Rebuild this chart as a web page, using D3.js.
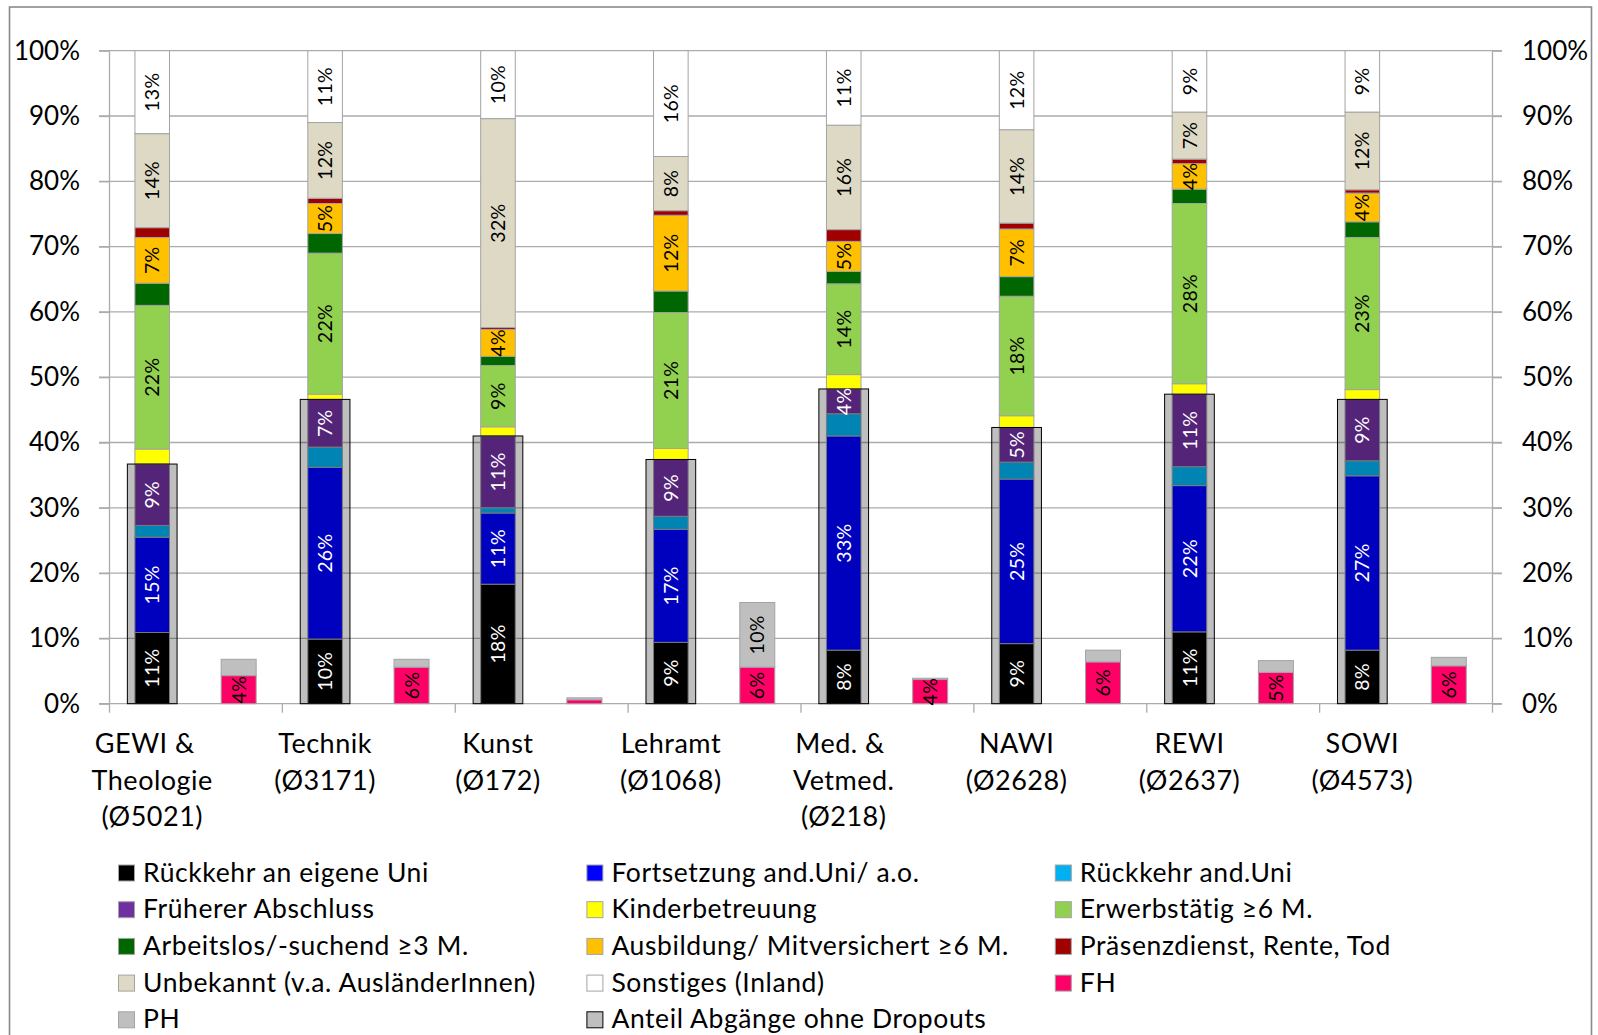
<!DOCTYPE html>
<html><head><meta charset="utf-8">
<script src="https://cdn.jsdelivr.net/npm/d3@7"></script>
<style>body{margin:0;background:#fff;} svg{display:block;} text{font-family:Lato,"Open Sans",sans-serif;}</style>
</head><body><svg id="c" width="1598" height="1035"></svg>
<script>
// ---------- data ----------
const categories = ["GEWI & Theologie (Ø5021)","Technik (Ø3171)","Kunst (Ø172)","Lehramt (Ø1068)","Med. & Vetmed. (Ø218)","NAWI (Ø2628)","REWI (Ø2637)","SOWI (Ø4573)"];
const categoryLines = [["GEWI &  ","Theologie","(Ø5021)"],["Technik","(Ø3171)"],["Kunst","(Ø172)"],["Lehramt","(Ø1068)"],["Med. & ","Vetmed.","(Ø218)"],["NAWI","(Ø2628)"],["REWI","(Ø2637)"],["SOWI","(Ø4573)"]];
const rueckkehrEigene = [10.9, 9.9, 18.3, 9.4, 8.2, 9.2, 11.0, 8.2];
const fortsetzung     = [14.6, 26.3, 10.9, 17.3, 32.8, 25.2, 22.4, 26.7];
const rueckkehrAnd    = [1.8, 3.1, 0.8, 2.0, 3.4, 2.6, 2.9, 2.3];
const frueherer       = [9.4, 7.3, 11.0, 8.7, 3.8, 5.3, 11.1, 9.4];
const kinder          = [2.3, 0.8, 1.4, 1.7, 2.2, 1.8, 1.6, 1.5];
const erwerb          = [22.0, 21.6, 9.4, 20.8, 13.9, 18.3, 27.6, 23.3];
const arbeitslos      = [3.4, 3.0, 1.4, 3.3, 1.9, 3.0, 2.2, 2.4];
const ausbildung      = [7.0, 4.6, 4.1, 11.6, 4.6, 7.3, 3.9, 4.4];
const praesenz        = [1.5, 0.8, 0.3, 0.7, 1.8, 0.9, 0.7, 0.5];
const unbekannt       = [14.4, 11.6, 32.0, 8.3, 16.0, 14.3, 7.2, 11.9];
const sonstiges       = [12.7, 11.0, 10.4, 16.2, 11.4, 12.1, 9.4, 9.4];
const fh              = [4.3, 5.6, 0.6, 5.6, 3.7, 6.4, 4.8, 5.8];
const ph              = [2.5, 1.2, 0.3, 9.9, 0.2, 1.8, 1.8, 1.3];
const anteilOhneDropouts = [36.7, 46.6, 41.0, 37.4, 48.2, 42.3, 47.4, 46.6];
const yTicks = [0,10,20,30,40,50,60,70,80,90,100];

const uniSeries = [
  {name:"Rückkehr an eigene Uni", values:rueckkehrEigene, color:"#000000", label:true, dark:true},
  {name:"Fortsetzung and.Uni/ a.o.", values:fortsetzung, color:"#0000FF", label:true, dark:true},
  {name:"Rückkehr and.Uni", values:rueckkehrAnd, color:"#00B0F0", label:false},
  {name:"Früherer Abschluss", values:frueherer, color:"#7030A0", label:true, dark:true},
  {name:"Kinderbetreuung", values:kinder, color:"#FFFF00", label:false},
  {name:"Erwerbstätig ≥6 M.", values:erwerb, color:"#92D050", label:true},
  {name:"Arbeitslos/-suchend ≥3 M.", values:arbeitslos, color:"#006600", label:false},
  {name:"Ausbildung/ Mitversichert ≥6 M.", values:ausbildung, color:"#FFC000", label:true},
  {name:"Präsenzdienst, Rente, Tod", values:praesenz, color:"#A00000", label:false},
  {name:"Unbekannt (v.a. AusländerInnen)", values:unbekannt, color:"#DDD9C4", label:true},
  {name:"Sonstiges (Inland)", values:sonstiges, color:"#FFFFFF", label:true}
];
const fhSeries = [
  {name:"FH", values:fh, color:"#FF0066", label:true},
  {name:"PH", values:ph, color:"#BFBFBF", label:true}
];
const anteilSeries = {name:"Anteil Abgänge ohne Dropouts", values:anteilOhneDropouts, color:"#BFBFBF"};

// ---------- layout ----------
const svg = d3.select("#c");
const plotL = 109, plotR = 1492, plotT = 50.7, plotB = 703.7;
const y = d3.scaleLinear().domain([0,100]).range([plotB, plotT]);
const slot = d3.scaleBand().domain(d3.range(categories.length*2)).range([plotL,plotR]).padding(0);
const catX = d3.scaleLinear().domain([0,categories.length]).range([plotL,plotR]);
const bw = slot.bandwidth();
const innerW = bw*0.40, outerW = bw*0.575, fhW = bw*0.405;
const segStroke = "#a3a3a3";

// frame
svg.append("rect").attr("x",9.5).attr("y",7).attr("width",1582).attr("height",1040)
  .attr("fill","none").attr("stroke","#8a8a8a").attr("stroke-width",1.6);

// gridlines
svg.append("g").selectAll("line").data(yTicks).join("line")
  .attr("x1",plotL-10).attr("x2",plotR+10).attr("y1",d=>y(d)).attr("y2",d=>y(d))
  .attr("stroke","#ababab").attr("stroke-width",1.3);

// axes
const fontAxis = 26;
const gL = svg.append("g").attr("transform",`translate(${plotL},0)`)
  .call(d3.axisLeft(y).tickValues(yTicks).tickFormat(d=>d+"%").tickSizeInner(10).tickSizeOuter(0).tickPadding(19));
const gR = svg.append("g").attr("transform",`translate(${plotR},0)`)
  .call(d3.axisRight(y).tickValues(yTicks).tickFormat(d=>d+"%").tickSizeInner(10).tickSizeOuter(0).tickPadding(20));
const gX = svg.append("g").attr("transform",`translate(0,${plotB})`)
  .call(d3.axisBottom(catX).tickValues(d3.range(categories.length+1)).tickFormat("").tickSizeInner(9).tickSizeOuter(0));
[gL,gR,gX].forEach(g=>{
  g.selectAll(".domain").attr("stroke","#ababab").attr("stroke-width",1.3);
  g.selectAll(".tick line").attr("stroke","#ababab").attr("stroke-width",1.3);
  g.selectAll("text").attr("font-size",fontAxis).attr("fill","#000").attr("font-family","Lato");
});
gX.select(".domain").remove();

// stacked uni bars
const labels = [];
categories.forEach((c,i)=>{
  const cx = slot(2*i)+bw/2;
  let acc = 0;
  uniSeries.forEach(s=>{
    const v = s.values[i], y0 = acc, y1 = acc+v; acc = y1;
    svg.append("rect").attr("x",cx-innerW/2).attr("width",innerW)
      .attr("y",y(y1)).attr("height",y(y0)-y(y1))
      .attr("fill",s.color).attr("stroke",segStroke).attr("stroke-width",1);
    if(s.label && v>=3) labels.push({x:cx,y:y((y0+y1)/2),t:Math.round(v)+"%",c:s.dark?"#fff":"#000"});
  });
  const fx = slot(2*i+1)+bw/2;
  acc = 0;
  fhSeries.forEach(s=>{
    const v = s.values[i], y0 = acc, y1 = acc+v; acc = y1;
    svg.append("rect").attr("x",fx-fhW/2).attr("width",fhW)
      .attr("y",y(y1)).attr("height",y(y0)-y(y1))
      .attr("fill",s.color).attr("stroke",segStroke).attr("stroke-width",1);
    if(s.label && v>=3) labels.push({x:fx,y:y((y0+y1)/2),t:Math.round(v)+"%",c:"#000"});
  });
  // transparent overlay bar
  svg.append("rect").attr("x",cx-outerW/2).attr("width",outerW)
    .attr("y",y(anteilSeries.values[i])).attr("height",y(0)-y(anteilSeries.values[i]))
    .attr("fill","rgba(0,0,0,0.25)").attr("stroke","#000").attr("stroke-width",1);
});

// data labels
svg.append("g").selectAll("text").data(labels).join("text")
  .attr("transform",d=>`translate(${d.x},${d.y}) rotate(-90)`)
  .attr("text-anchor","middle").attr("dy","0.36em")
  .attr("font-size",19.5).attr("letter-spacing",0.3).attr("fill",d=>d.c).text(d=>d.t);

// category labels
const gC = svg.append("g");
categoryLines.forEach((lines,i)=>{
  const cx = slot(2*i)+bw/2;
  const t = gC.append("text").attr("text-anchor","middle").attr("font-size",27)
    .attr("letter-spacing",0.5).style("white-space","pre").attr("fill","#000");
  lines.forEach((l,k)=>t.append("tspan").attr("x",cx).attr("y",753+k*36.5).text(l));
});

// legend
const legendItems = [...uniSeries.map(s=>({name:s.name,color:s.color,stroke:segStroke})),
  {name:"FH",color:fhSeries[0].color,stroke:segStroke},
  {name:"PH",color:fhSeries[1].color,stroke:segStroke},
  {name:anteilSeries.name,color:anteilSeries.color,stroke:"#000"}];
const lg = svg.append("g");
legendItems.forEach((d,k)=>{
  const col = k%3, row = Math.floor(k/3);
  const lx = 118.5 + col*468.4, ly = 865 + row*36.7;
  lg.append("rect").attr("x",lx).attr("y",ly).attr("width",16).attr("height",16)
    .attr("fill",d.color).attr("stroke",d.stroke).attr("stroke-width",1);
  lg.append("text").attr("x",lx+24.5).attr("y",ly+16.5).attr("font-size",26.5)
    .attr("letter-spacing",0.6).attr("fill","#000").text(d.name);
});
</script></body></html>
